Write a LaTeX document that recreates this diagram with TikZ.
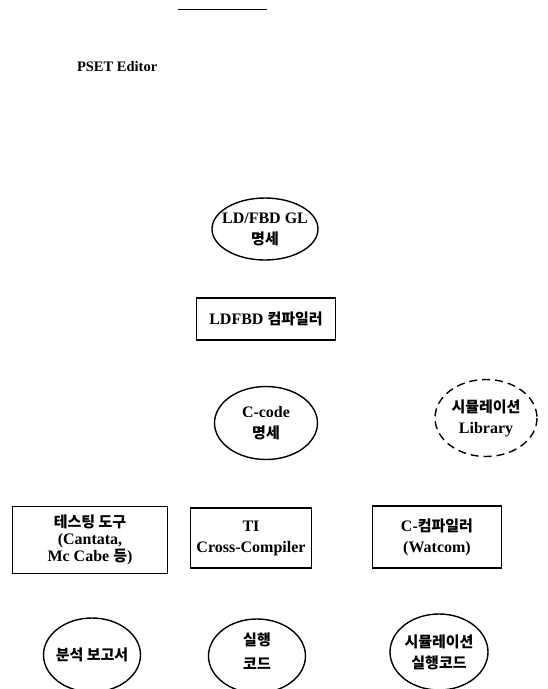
\documentclass[tikz,border=0pt]{standalone}
\usepackage{fontspec}
\setmainfont{Liberation Serif}
\newfontfamily\krfont{Noto Sans CJK KR}
\usetikzlibrary{shapes.geometric}
\newcommand\ko[1]{{\krfont\bfseries\fontsize{15}{20}\selectfont #1}}
\begin{document}
\begin{tikzpicture}[x=1pt,y=-1pt,
  every node/.style={font=\bfseries\fontsize{16}{21}\selectfont, align=center, line width=1.4pt},
  oval/.style={line width=1.4pt},
  box/.style={draw, rectangle, inner sep=0pt}]
\useasboundingbox (0,0) rectangle (548,689);
\clip (0,0) rectangle (548,689);
\draw[line width=0.8pt] (178,9) -- (267,9);
\node[anchor=west, font=\bfseries\fontsize{14.5}{16}\selectfont] (pset) at (73,67) {PSET Editor};
\node (spec) at (265,229) {LD/FBD GL\\\ko{명세}};
\draw[oval] (spec.center) ellipse [x radius=53, y radius=31];
\node[box, minimum width=139, minimum height=42] (ldc) at (266,319) {LDFBD \ko{컴파일러}};
\node (cc) at (266,423) {C-code\\\ko{명세}};
\draw[oval] (cc.center) ellipse [x radius=51.5, y radius=36.5];
\node (lib) at (486,418) {\ko{시뮬레이션}\\Library};
\draw[oval, dash pattern=on 8pt off 5pt] (lib.center) ellipse [x radius=51, y radius=38.5];
\node[box, minimum width=155, minimum height=67, font=\bfseries\fontsize{16}{15}\selectfont] (test) at (90,540) {\ko{테스팅 도구}\\[2pt](Cantata,\\Mc Cabe \ko{등})};
\node[box, minimum width=121, minimum height=60] (ti) at (251,538) {TI\\Cross-Compiler};
\node[box, minimum width=129, minimum height=62] (ccomp) at (437,537) {C-\ko{컴파일러}\\(Watcom)};
\node (rep) at (92,655) {\ko{분석 보고서}};
\draw[oval] (rep.center) ellipse [x radius=48.5, y radius=37];
\node[font=\bfseries\fontsize{16}{24}\selectfont] (exe) at (257,651) {\ko{실행}\\\ko{코드}};
\draw[oval] (257,656) ellipse [x radius=48.5, y radius=37];
\node (simexe) at (439,652) {\ko{시뮬레이션}\\\ko{실행코드}};
\draw[oval] (simexe.center) ellipse [x radius=49, y radius=38];
\end{tikzpicture}
\end{document}
